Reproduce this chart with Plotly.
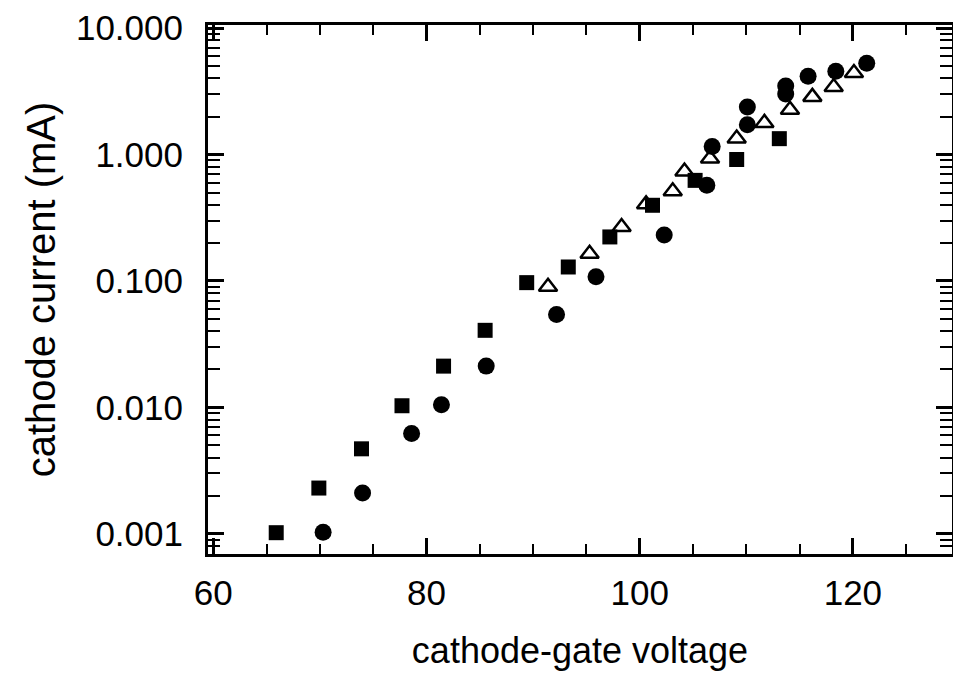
import plotly.graph_objects as go

# ---- data ----
sq_x = [65.9, 69.9, 73.9, 77.7, 81.6, 85.5, 89.4, 93.3, 97.2, 101.2, 105.2, 109.1, 113.1]
sq_y = [0.00102, 0.0023, 0.0047, 0.0103, 0.0212, 0.0407, 0.097, 0.129, 0.223, 0.397, 0.625, 0.914, 1.336]

ci_x = [70.3, 74.0, 78.6, 81.4, 85.6, 92.2, 95.9, 102.3, 106.3, 106.8, 110.1, 110.1, 113.7, 113.7, 115.8, 118.4, 121.3]
ci_y = [0.00103, 0.0021, 0.0062, 0.0105, 0.0212, 0.0544, 0.108, 0.231, 0.571, 1.156, 1.72, 2.38, 3.01, 3.48, 4.17, 4.57, 5.28]

tr_x = [91.4, 95.3, 98.3, 100.6, 103.1, 104.2, 106.6, 109.1, 111.7, 114.1, 116.2, 118.2, 120.1]
tr_y = [0.090, 0.164, 0.267, 0.405, 0.512, 0.735, 0.93, 1.34, 1.78, 2.26, 2.86, 3.42, 4.41]

y_tickvals = [0.001, 0.01, 0.1, 1, 10]
y_ticktext = ["0.001", "0.010", "0.100", "1.000", "10.000"]
x_tickvals = [60, 80, 100, 120]

x_title = "cathode-gate voltage"
y_title = "cathode current (mA)"

FONT = "Liberation Sans, Arial, Helvetica, sans-serif"

fig = go.Figure()
fig.add_trace(go.Scatter(x=sq_x, y=sq_y, mode="markers",
                         marker=dict(symbol="square", size=15, color="black",
                                     line=dict(width=0))))
fig.add_trace(go.Scatter(x=ci_x, y=ci_y, mode="markers",
                         marker=dict(symbol="circle", size=17, color="black",
                                     line=dict(width=0))))
fig.add_trace(go.Scatter(x=tr_x, y=tr_y, mode="markers",
                         marker=dict(symbol="triangle-up-open", size=16, color="black",
                                     line=dict(width=2.5, color="black"))))

# page body has an 8px default margin, so the figure is drawn 8px in from the top-left
fig.update_layout(
    width=953, height=668,
    margin=dict(l=200, r=9, t=17, b=122),
    paper_bgcolor="white", plot_bgcolor="white",
    showlegend=False,
    font=dict(family=FONT, color="black"),
)

fig.update_xaxes(
    range=[59.5, 129.3],
    automargin=False,
    tickvals=x_tickvals,
    ticks="inside", ticklen=16, tickwidth=2.5, tickcolor="black",
    minor=dict(dtick=5, tick0=60, ticks="inside", ticklen=10, tickwidth=2, tickcolor="black", showgrid=False),
    showline=True, linewidth=3, linecolor="black", mirror="allticks",
    showgrid=False, zeroline=False,
    tickfont=dict(size=35, family=FONT, color="black"),
    ticklabelstandoff=6,
    ticklabeloverflow="allow",
    title=dict(text=x_title, font=dict(size=36, family=FONT, color="black"), standoff=27),
)

fig.update_yaxes(
    type="log",
    range=[-3.16, 1.025],
    automargin=False,
    tickvals=y_tickvals, ticktext=y_ticktext,
    ticks="inside", ticklen=16, tickwidth=2.5, tickcolor="black",
    minor=dict(dtick="D1", ticks="inside", ticklen=12, tickwidth=2, tickcolor="black", showgrid=False),
    showline=True, linewidth=3, linecolor="black", mirror="allticks",
    showgrid=False, zeroline=False,
    tickfont=dict(size=35, family=FONT, color="black"),
    ticklabelstandoff=15,
    ticklabeloverflow="allow",
    title=dict(text=y_title, font=dict(size=40, family=FONT, color="black"), standoff=8),
)

fig.write_html("out.html")
